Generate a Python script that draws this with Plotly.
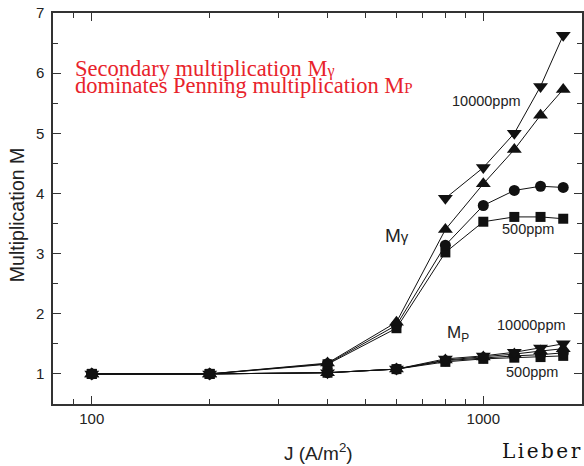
import numpy as np
import plotly.graph_objects as go

# ---------------- data ----------------
J_all = [100, 200, 400, 600, 800, 1000, 1200, 1400, 1600]
J_hi = [800, 1000, 1200, 1400, 1600]

# Secondary multiplication M_gamma
mg_500 = [1.0, 1.0, 1.16, 1.76, 3.02, 3.53, 3.61, 3.61, 3.58]      # squares
mg_b = [1.0, 1.0, 1.17, 1.81, 3.14, 3.80, 4.05, 4.12, 4.10]        # circles
mg_c = [1.0, 1.0, 1.18, 1.86, 3.40, 4.16, 4.73, 5.30, 5.73]        # up triangles
mg_10000 = [3.92, 4.43, 5.00, 5.78, 6.63]                          # down triangles

# Penning multiplication M_P
mp_500 = [1.0, 1.0, 1.02, 1.08, 1.20, 1.25, 1.27, 1.28, 1.30]
mp_b = [1.0, 1.0, 1.02, 1.08, 1.22, 1.27, 1.30, 1.32, 1.35]
mp_c = [1.0, 1.0, 1.02, 1.08, 1.23, 1.28, 1.33, 1.38, 1.42]
mp_10000 = [1.0, 1.0, 1.02, 1.08, 1.25, 1.30, 1.36, 1.43, 1.50]

x_tickvals = [100, 1000]
x_minor = [90, 200, 300, 400, 500, 600, 700, 800, 900, 2000]
y_tickvals = [1, 2, 3, 4, 5, 6, 7]

# ---------------- figure ----------------
fig = go.Figure()
BLACK = "#111111"

def add(xs, ys, sym, size):
    fig.add_trace(go.Scatter(
        x=xs, y=ys, mode="lines+markers",
        line=dict(color=BLACK, width=1),
        marker=dict(symbol=sym, size=size, color=BLACK, line=dict(width=0)),
        showlegend=False, hoverinfo="skip"))

add(J_all, mp_500, "square", 10)
add(J_all, mp_b, "circle", 11)
add(J_all, mp_c, "triangle-up", 13)
add(J_all, mp_10000, "triangle-down", 13)
add(J_all, mg_500, "square", 10)
add(J_all, mg_b, "circle", 11)
add(J_all, mg_c, "triangle-up", 13)
add(J_hi, mg_10000, "triangle-down", 13)

W, H = 584, 466
L, R, T, B = 53, 0, 13, 62
pw, ph = W - L - R, H - T - B

def px(x):
    return (x - L) / pw

def py(y):
    return (H - B - y) / ph

annots = []
def text(x, y, s, size, color="#222222", family="Liberation Sans", xanchor="left",
         yanchor="middle", angle=0):
    annots.append(dict(x=px(x), y=py(y), xref="paper", yref="paper", text=s,
                       showarrow=False, xanchor=xanchor, yanchor=yanchor, textangle=angle,
                       align="left",
                       font=dict(size=size, color=color, family=family)))

RED = "#e8232b"
red_txt = ("<span style='font-size:22.5px'>Secondary multiplication M</span>"
           "<span style='font-size:16px'>γ</span><br>"
           "<span style='font-size:22.5px'>dominates Penning multiplication M</span>"
           "<span style='font-size:15px'>P</span>")
text(73, 77, red_txt, 13, RED, "Liberation Serif")
text(451, 101, "10000ppm", 14.5)
text(502, 229, "500ppm", 14.5)
text(497, 325, "10000ppm", 14.5)
text(506, 372, "500ppm", 14.5)
text(384, 235, "M<span style='font-size:15px'>γ</span>", 19)
text(446, 334, "M<sub>P</sub>", 17)
text(502, 451, "<span style='letter-spacing:2.5px'>Lieber</span>", 20, "#111111", "DejaVu Serif")
text(320, 452, "J (A/m<sup>2</sup>)", 19, xanchor="center")
text(17, 215, "Multiplication M", 19.5, xanchor="center", angle=-90)

fig.update_layout(
    width=W, height=H,
    margin=dict(l=L, r=R, t=T, b=B),
    paper_bgcolor="white", plot_bgcolor="white",
    annotations=annots,
    font=dict(family="Liberation Sans", color="#222222"),
)

fig.update_xaxes(
    type="log", range=[np.log10(79.6), np.log10(79.6) + pw / 393.0],
    tickmode="array", tickvals=x_tickvals, ticktext=[str(v) for v in x_tickvals],
    ticks="inside", ticklen=8, tickwidth=1.3, tickcolor="#333333",
    minor=dict(tickmode="array", tickvals=x_minor, ticks="inside", ticklen=5,
               tickwidth=1.2, tickcolor="#333333", showgrid=False),
    showline=True, linecolor="#333333", linewidth=1.5, mirror="ticks",
    showgrid=False, zeroline=False,
    tickfont=dict(size=15, family="Liberation Sans", color="#222222"),
)
fig.update_yaxes(
    range=[0.5, 7], tickmode="array", tickvals=y_tickvals,
    ticks="inside", ticklen=8, tickwidth=1.3, tickcolor="#333333",
    minor=dict(dtick=0.5, tick0=0.5, ticks="inside", ticklen=5, tickwidth=1.2,
               tickcolor="#333333", showgrid=False),
    showline=True, linecolor="#333333", linewidth=1.5, mirror="ticks",
    showgrid=False, zeroline=False,
    tickfont=dict(size=15, family="Liberation Sans", color="#222222"),
    ticklabelstandoff=4,
)

fig.write_html("out.html")
